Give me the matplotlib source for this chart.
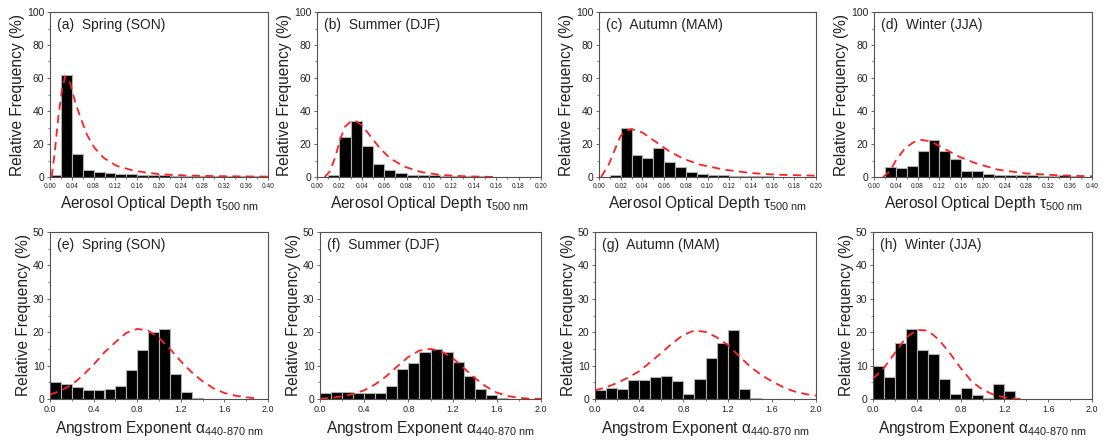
import numpy as np
import matplotlib
matplotlib.use("Agg")
import matplotlib.pyplot as plt
from matplotlib.ticker import MultipleLocator, FormatStrFormatter

plt.rcParams['font.family'] = ['Liberation Sans', 'DejaVu Sans']
plt.rcParams['mathtext.fontset'] = 'custom'
plt.rcParams['mathtext.rm'] = 'Liberation Sans'
plt.rcParams['mathtext.it'] = 'Liberation Sans:italic'
plt.rcParams['mathtext.bf'] = 'Liberation Sans:bold'

# ---------------- data ----------------
titles = ['(a)  Spring (SON)', '(b)  Summer (DJF)', '(c)  Autumn (MAM)', '(d)  Winter (JJA)',
          '(e)  Spring (SON)', '(f)  Summer (DJF)', '(g)  Autumn (MAM)', '(h)  Winter (JJA)']

# AOD histograms (relative frequency, %)
a_bin_w = 0.02
a_freq = [1.0, 62, 14, 4, 3, 2.2, 2, 1.6, 1.3, 1.1, 1.0, 0.9, 0.8, 0.7, 0.7, 0.6, 0.6, 0.5, 0.6, 0.5]
b_bin_w = 0.01
b_freq = [0, 1.0, 24, 34, 19, 8, 4, 2.5, 1.3, 1.0, 1.0, 0.7, 0.5, 0.5, 0.4, 0.3, 0.3, 0.2, 0.2, 0.2]
c_bin_w = 0.01
c_freq = [0, 1.0, 29.5, 13.5, 11.5, 17.5, 9, 5.8, 2.8, 2.1, 1.5, 1.0, 0.6, 0.5, 0.8, 0.4, 0.3, 0.3, 0.3, 0.3]
d_bin_w = 0.02
d_freq = [0, 6, 5.4, 6.7, 15.8, 22.3, 15.5, 10.8, 3.6, 3.6, 2.0, 1.5, 1.4, 1.2, 1.0, 0.9, 0.8, 1.0, 0.9, 0.3]

# Angstrom exponent histograms
ae_bin_w = 0.1
e_freq = [5.0, 4.6, 3.5, 2.6, 2.6, 3.1, 3.8, 8.7, 14.7, 20, 20.9, 7.5, 2.1, 0.3, 0.1, 0.1, 0, 0, 0, 0]
f_freq = [1.8, 2.0, 2.0, 1.9, 1.9, 1.9, 3.8, 9.0, 10.9, 14.1, 15.1, 14.0, 11.1, 6.8, 3.1, 1.2, 0.3, 0, 0, 0]
g_freq = [2.6, 3.3, 3.0, 5.6, 5.6, 6.6, 6.8, 5.5, 1.4, 6.1, 12.2, 16.9, 20.6, 3.0, 0.3, 0.1, 0.1, 0.1, 0.1, 0.1]
h_freq = [9.8, 6.6, 16.7, 21, 14.6, 13.5, 6.1, 1.5, 3.4, 1.2, 0.3, 4.4, 2.3, 0, 0, 0, 0, 0, 0, 0]

# fitted curves
a_fit_x = [0.003, 0.009, 0.0155, 0.022, 0.028, 0.037, 0.0465, 0.056, 0.068, 0.081, 0.09, 0.099,
           0.122, 0.155, 0.2, 0.25, 0.31, 0.4]
a_fit_y = [0, 16, 37, 53, 61, 57, 45, 36, 25.5, 18, 14.5, 11.5, 6.8, 3.7, 1.7, 0.9, 0.5, 0.2]
b_fit_x = [0.0068, 0.0114, 0.016, 0.0206, 0.025, 0.030, 0.0345, 0.0406, 0.048, 0.056, 0.065,
           0.0775, 0.093, 0.111, 0.133, 0.16]
b_fit_y = [0, 3.4, 11.5, 22.5, 30.5, 33.5, 34, 31, 24.5, 17.5, 11.5, 6.4, 3, 1.2, 0.4, 0]
c_fit_x = [0.002, 0.0093, 0.0155, 0.02, 0.025, 0.030, 0.040, 0.053, 0.065, 0.078, 0.093, 0.115,
           0.14, 0.164, 0.2]
c_fit_y = [0, 8, 18, 25, 28, 29, 27, 21, 15.5, 11, 7.5, 4.5, 2.4, 1.4, 0.8]
d_fit_x = [0.0166, 0.029, 0.041, 0.056, 0.072, 0.087, 0.105, 0.127, 0.155, 0.185, 0.228, 0.277,
           0.339, 0.40]
d_fit_y = [0, 3.4, 10.5, 17, 21, 22.5, 21.5, 17.5, 12.5, 8.5, 4.4, 2.2, 1, 0.4]

e_fit_x = [0, 0.1, 0.2, 0.3, 0.4, 0.5, 0.6, 0.7, 0.8, 0.9, 1.0, 1.1, 1.2, 1.3, 1.4, 1.5, 1.6, 1.7, 1.8, 1.9]
e_fit_y = [1.3, 2.5, 4.3, 7, 10.3, 14, 17, 19.8, 21, 20.5, 18.3, 15, 11.3, 8, 5.3, 3.2, 1.8, 1.0, 0.5, 0.2]
f_fit_x = [0, 0.1, 0.2, 0.3, 0.4, 0.5, 0.6, 0.7, 0.8, 0.9, 1.0, 1.1, 1.2, 1.3, 1.4, 1.5, 1.6, 1.7, 1.8, 1.9, 2.0]
f_fit_y = [0.1, 0.3, 0.8, 1.5, 2.6, 4.4, 6.8, 9.8, 12.6, 14.5, 15.0, 14.2, 12.3, 9.3, 6.3, 3.8, 1.9, 0.9, 0.35, 0.1, 0.05]
g_fit_x = [0, 0.1, 0.2, 0.3, 0.4, 0.5, 0.6, 0.7, 0.8, 0.9, 1.0, 1.1, 1.2, 1.3, 1.4, 1.5, 1.6, 1.7, 1.8, 1.9, 2.0]
g_fit_y = [2.6, 3.5, 4.8, 6.4, 8.3, 11, 13.8, 16.7, 19.2, 20.5, 20.1, 18.5, 16.2, 13, 9.8, 7.3, 5.3, 3.6, 2.3, 1.5, 1.0]
h_fit_x = [0, 0.1, 0.2, 0.3, 0.4, 0.5, 0.6, 0.7, 0.8, 0.9, 1.0, 1.1, 1.2, 1.3, 1.35]
h_fit_y = [6.1, 9.3, 13.8, 18.3, 20.7, 20.5, 17.8, 13.8, 9.3, 5.3, 2.8, 1.3, 0.5, 0.1, 0]

aod_xlabel = r'Aerosol Optical Depth τ$_{\mathrm{500\ nm}}$'
ae_xlabel = r'Angstrom Exponent α$_{\mathrm{440\text{-}870\ nm}}$'
ylabel = 'Relative Frequency (%)'

# ---------------- layout ----------------
W, H = 1104, 443
fig = plt.figure(figsize=(W / 100, H / 100), dpi=100)

def rect(x0, x1, ytop, ybot):
    return [x0 / W, 1 - ybot / H, (x1 - x0) / W, (ybot - ytop) / H]

top_cols = [(50, 268), (317, 541), (599, 816), (874, 1092)]
bot_cols = [(50, 268), (320, 541), (595, 816), (873, 1092)]

panels = [
    dict(freq=a_freq, w=a_bin_w, fx=a_fit_x, fy=a_fit_y, xmax=0.40, xmaj=0.04, xmin_=0.02, fmt='%.2f'),
    dict(freq=b_freq, w=b_bin_w, fx=b_fit_x, fy=b_fit_y, xmax=0.20, xmaj=0.02, xmin_=0.01, fmt='%.2f'),
    dict(freq=c_freq, w=c_bin_w, fx=c_fit_x, fy=c_fit_y, xmax=0.20, xmaj=0.02, xmin_=0.01, fmt='%.2f'),
    dict(freq=d_freq, w=d_bin_w, fx=d_fit_x, fy=d_fit_y, xmax=0.40, xmaj=0.04, xmin_=0.02, fmt='%.2f'),
    dict(freq=e_freq, w=ae_bin_w, fx=e_fit_x, fy=e_fit_y, xmax=2.0, xmaj=0.4, xmin_=0.2, fmt='%.1f'),
    dict(freq=f_freq, w=ae_bin_w, fx=f_fit_x, fy=f_fit_y, xmax=2.0, xmaj=0.4, xmin_=0.2, fmt='%.1f'),
    dict(freq=g_freq, w=ae_bin_w, fx=g_fit_x, fy=g_fit_y, xmax=2.0, xmaj=0.4, xmin_=0.2, fmt='%.1f'),
    dict(freq=h_freq, w=ae_bin_w, fx=h_fit_x, fy=h_fit_y, xmax=2.0, xmaj=0.4, xmin_=0.2, fmt='%.1f'),
]

spine_c = '#505050'
text_c = '#222222'

for i, p in enumerate(panels):
    top = i < 4
    if top:
        x0, x1 = top_cols[i]
        ax = fig.add_axes(rect(x0, x1, 12, 177))
    else:
        x0, x1 = bot_cols[i - 4]
        ax = fig.add_axes(rect(x0, x1, 232, 399))
    n = len(p['freq'])
    lefts = np.arange(n) * p['w']
    ax.bar(lefts, p['freq'], width=p['w'], align='edge', color='black',
           edgecolor='#b0b0b0', linewidth=0.8, zorder=2)
    ax.plot(p['fx'], p['fy'], color='#ff2020', linestyle=(0, (4.5, 3)), linewidth=1.3, zorder=3)
    ax.set_xlim(0, p['xmax'])
    if top:
        ax.set_ylim(0, 100)
        ax.yaxis.set_major_locator(MultipleLocator(20))
        ax.yaxis.set_minor_locator(MultipleLocator(10))
        ax.set_xlabel(aod_xlabel, fontsize=11.2, labelpad=3, color=text_c)
        xfs = 4.8
    else:
        ax.set_ylim(0, 50)
        ax.yaxis.set_major_locator(MultipleLocator(10))
        ax.yaxis.set_minor_locator(MultipleLocator(5))
        ax.set_xlabel(ae_xlabel, fontsize=11.2, labelpad=4, color=text_c)
        xfs = 6.5
    ax.xaxis.set_major_locator(MultipleLocator(p['xmaj']))
    ax.xaxis.set_minor_locator(MultipleLocator(p['xmin_']))
    ax.xaxis.set_major_formatter(FormatStrFormatter(p['fmt']))
    ax.set_ylabel(ylabel, fontsize=11.2, labelpad=1.5, color=text_c)
    ax.tick_params(axis='x', which='major', labelsize=xfs, length=2.5, width=0.6,
                   direction='out', colors=spine_c, labelcolor=text_c, pad=1.5)
    ax.tick_params(axis='y', which='major', labelsize=7.5, length=2.5, width=0.6,
                   direction='out', colors=spine_c, labelcolor=text_c, pad=1.5)
    ax.tick_params(which='minor', length=1.5, width=0.5, direction='out', colors=spine_c)
    for s in ax.spines.values():
        s.set_color(spine_c)
        s.set_linewidth(0.8)
    ax.text(0.03, 0.965, titles[i], transform=ax.transAxes, ha='left', va='top',
            fontsize=10, color=text_c)

fig.savefig('out.png', dpi=100)
